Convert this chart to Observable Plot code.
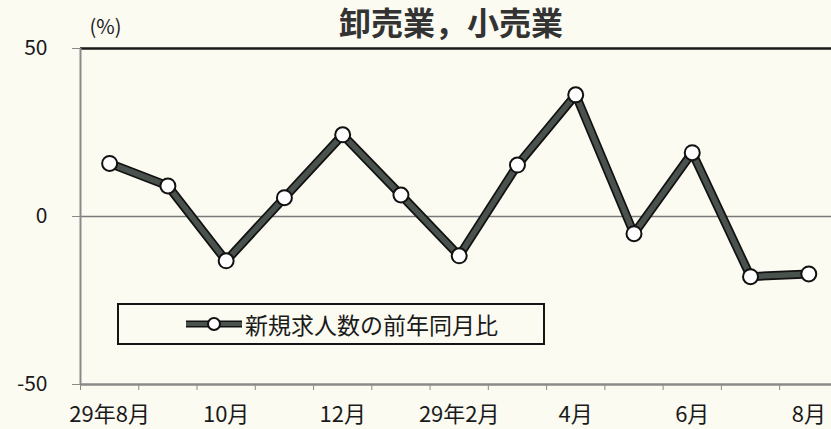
<!DOCTYPE html>
<html>
<head>
<meta charset="utf-8">
<script src="https://cdn.jsdelivr.net/npm/d3@7"></script>
<script src="https://cdn.jsdelivr.net/npm/@observablehq/plot@0.6"></script>
<style>
  html, body { margin: 0; padding: 0; background: #fbfbf2; }
  #wrap { position: relative; width: 831px; height: 429px; overflow: hidden; font-family: "Noto Sans CJK JP", "Noto Sans", sans-serif; }
  #legend { position: absolute; left: 117px; top: 303px; width: 424px; height: 38px; border: 2px solid #151515; display: flex; align-items: center; box-sizing: content-box; }
  #legend span { font-size: 23px; color: #1a1a1a; margin-left: 1px; line-height: 1; }
</style>
</head>
<body>
<div id="wrap"></div>
<script>
const months = ["29年8月","9月","10月","11月","12月","29年1月","29年2月","3月","4月","5月","6月","7月","8月"];
const values = [15.8, 9.1, -13.2, 5.6, 24.3, 6.4, -11.7, 15.3, 36.2, -5.1, 19.0, -17.9, -17.1];
const tickIdx = [0, 2, 4, 6, 8, 10, 12];
const tickLabels = ["29年8月","10月","12月","29年2月","4月","6月","8月"];
const yTicks = [-50, 0, 50];
const title = "卸売業，小売業";
const unit = "(%)";
const seriesName = "新規求人数の前年同月比";

const data = months.map((m, i) => ({i, m, v: values[i]}));
const boundaries = d3.range(months.length).map(i => i - 0.5);

const font = "'Noto Sans CJK JP', 'Noto Sans', sans-serif";

const chart = Plot.plot({
  width: 831,
  height: 429,
  marginLeft: 80,
  marginRight: 0,
  marginTop: 48,
  marginBottom: 45,
  style: { background: "transparent", fontFamily: font, overflow: "visible" },
  x: { type: "linear", domain: [-0.5, 12.39] },
  y: { domain: [-50, 50] },
  marks: [
    Plot.ruleY([-50], { stroke: "#8a8a8a", strokeWidth: 2.5 }),
    Plot.ruleY([0], { stroke: "#7a7a7a", strokeWidth: 1.5 }),
    Plot.ruleY([50], { stroke: "#1a1a1a", strokeWidth: 2.5 }),
    Plot.ruleX([-0.5], { stroke: "#8a8a8a", strokeWidth: 2 }),
    Plot.axisY({ ticks: yTicks, tickSize: 8, tickPadding: 25, fontSize: 21, stroke: "#8a8a8a", color: "#1a1a1a", label: null, tickFormat: d => String(d) }),
    Plot.axisX({ ticks: boundaries, tickSize: 6, tickFormat: () => "", stroke: "#8a8a8a", label: null }),
    Plot.axisX({ ticks: tickIdx, tickSize: 0, tickPadding: 22, fontSize: 22, color: "#1a1a1a", tickFormat: i => tickLabels[tickIdx.indexOf(i)], label: null }),
    Plot.line(data, { x: "i", y: "v", stroke: "#111", strokeWidth: 9, strokeLinejoin: "round" }),
    Plot.line(data, { x: "i", y: "v", stroke: "#4a524d", strokeWidth: 5.5, strokeLinejoin: "round" }),
    Plot.dot(data, { x: "i", y: "v", r: 7.5, fill: "white", stroke: "#111", strokeWidth: 2 }),
    Plot.text([title], { frameAnchor: "top", dx: -5, dy: -36, fontSize: 32, fontWeight: "bold", fill: "#333", fontFamily: font }),
    Plot.text([unit], { frameAnchor: "top-left", dx: 25, dy: -29, fontSize: 20, fill: "#1a1a1a", textAnchor: "middle", fontFamily: font })
  ]
});
const wrap = document.getElementById("wrap");
wrap.appendChild(chart);

const legend = document.createElement("div");
legend.id = "legend";
legend.innerHTML = `<svg width="125" height="20" style="flex:none"><line x1="67" x2="123" y1="10" y2="10" stroke="#111" stroke-width="7"/><line x1="67" x2="123" y1="10" y2="10" stroke="#4a524d" stroke-width="4"/><circle cx="95" cy="10" r="6" fill="white" stroke="#111" stroke-width="2"/></svg><span></span>`;
legend.querySelector("span").textContent = seriesName;
wrap.appendChild(legend);
</script>
</body>
</html>
